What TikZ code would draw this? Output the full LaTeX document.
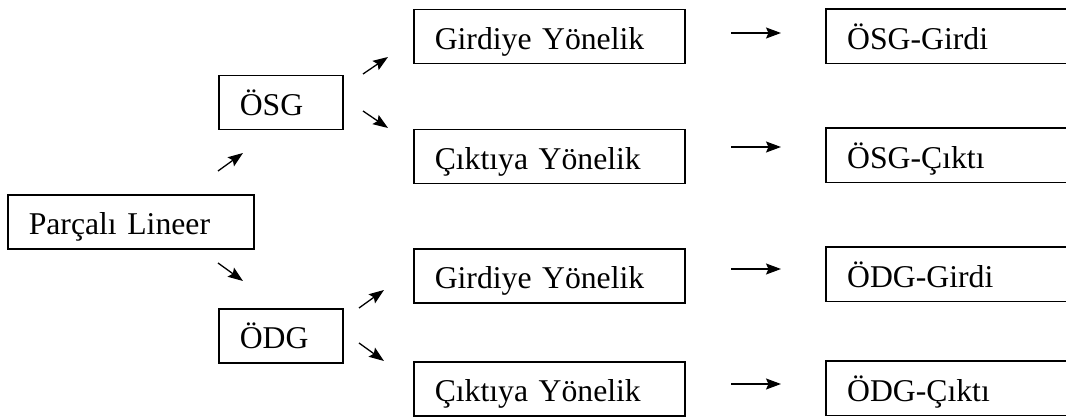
\documentclass[tikz,border=0pt]{standalone}
\usepackage{fontspec}
\setmainfont{Liberation Serif}
\usetikzlibrary{arrows.meta}
\tikzset{
  boxtext/.style={anchor=north west, minimum height=54pt,
    inner xsep=21pt, inner ysep=0pt, text height=40pt, text depth=14pt, align=left,
    font=\fontsize{31.7}{38}\selectfont},
  box/.style={boxtext, draw, line width=1.5pt},
  openline/.style={line width=1.5pt},
  arr/.style={line width=1.3pt, -{Stealth[length=15pt,width=11pt,inset=2.5pt]}}
}
\begin{document}
\begin{tikzpicture}[x=1pt,y=-1pt]
\useasboundingbox (0,0) rectangle (1066,417);
% left
\node[box, text width=204pt] (pl) at (7,194) {Parçalı Lineer};
\node[box, text width=82pt] (osg) at (218,75) {ÖSG};
\node[box, text width=82pt] (odg) at (218,308) {ÖDG};
% middle
\node[box, text width=229pt] (a1) at (413,9) {Girdiye Yönelik};
\node[box, text width=229pt] (a2) at (413,129) {Çıktıya Yönelik};
\node[box, text width=229pt] (b1) at (413,248) {Girdiye Yönelik};
\node[box, text width=229pt] (b2) at (413,361) {Çıktıya Yönelik};
% right (cut off by the right edge)
\node[boxtext, text width=240pt] (r1) at (826,9) {ÖSG-Girdi};
\node[boxtext, text width=240pt] (r2) at (826,128) {ÖSG-Çıktı};
\node[boxtext, text width=240pt] (r3) at (826,247) {ÖDG-Girdi};
\node[boxtext, text width=240pt] (r4) at (826,361) {ÖDG-Çıktı};
\foreach \r in {r1,r2,r3,r4}
  \draw[openline] (\r.north east) -- (\r.north west) -- (\r.south west) -- (\r.south east);
% arrow coordinates
\coordinate (p1s) at (218,171); \coordinate (p1e) at (243,153);
\coordinate (p2s) at (218,263); \coordinate (p2e) at (243,281);
\coordinate (o1s) at (363,74);  \coordinate (o1e) at (388,57);
\coordinate (o2s) at (363,111); \coordinate (o2e) at (388,128);
\coordinate (d1s) at (359,308); \coordinate (d1e) at (384,290);
\coordinate (d2s) at (359,343); \coordinate (d2e) at (384,361);
\coordinate (h1s) at (731,33);  \coordinate (h1e) at (781,33);
\coordinate (h2s) at (731,147); \coordinate (h2e) at (781,147);
\coordinate (h3s) at (731,269); \coordinate (h3e) at (781,269);
\coordinate (h4s) at (731,384); \coordinate (h4e) at (781,384);
\foreach \a in {p1,p2,o1,o2,d1,d2,h1,h2,h3,h4}
  \draw[arr] (\a s) -- (\a e);
\end{tikzpicture}
\end{document}
